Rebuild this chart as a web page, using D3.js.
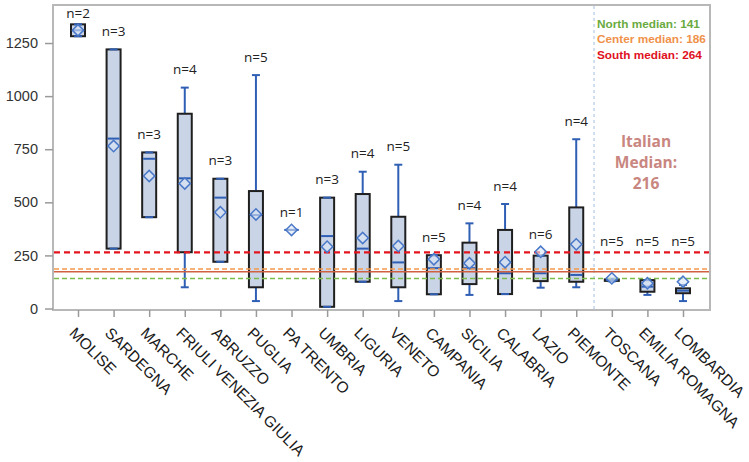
<!DOCTYPE html>
<html>
<head>
<meta charset="utf-8">
<script src="https://cdn.jsdelivr.net/npm/d3@7/dist/d3.min.js"></script>
<style>
  html, body { margin: 0; padding: 0; background: #fff; }
  svg { display: block; }
</style>
</head>
<body>
<svg id="chart" width="749" height="462"></svg>
<script>
// ---- data ----
const categories = ["MOLISE","SARDEGNA","MARCHE","FRIULI VENEZIA GIULIA","ABRUZZO","PUGLIA","PA TRENTO","UMBRIA","LIGURIA","VENETO","CAMPANIA","SICILIA","CALABRIA","LAZIO","PIEMONTE","TOSCANA","EMILIA ROMAGNA","LOMBARDIA"];
const nCounts     = [2, 3, 3, 4, 3, 5, 1, 3, 4, 5, 5, 4, 4, 6, 4, 5, 5, 5];
const whiskerLow  = [1282, 282, 430, 100, 220,   35, 370,   8, 126,  35,  67,  64,  68,  98, 100, 128,  64,  35];
const q1          = [1282, 282, 430, 265, 220,  100, 370,   8, 126, 100,  67, 115,  68, 129, 126, 130,  79,  72];
const medians     = [1310, 800, 705, 613, 522,  440, 370, 341, 282, 217, 190, 190, 166, 166, 158, 134, 103,  84];
const q3          = [1338,1220, 735, 917, 611,  553, 370, 522, 539, 432, 251, 310, 370, 249, 476, 137, 134,  95];
const whiskerHigh = [1338,1220, 735,1040, 611, 1099, 370, 522, 644, 677, 251, 401, 492, 249, 797, 140, 134, 111];
const means       = [1310, 765, 624, 589, 453,  443, 370, 291, 332, 294, 232, 213, 218, 267, 302, 142, 119, 126];

const yTicks = [0, 250, 500, 750, 1000, 1250];
const refNames  = ["North median: 141", "Center median: 186", "South median: 264"];
const refValues = [141, 186, 264];
const italianMedianLabel = ["Italian", "Median:", "216"];
const solidLineValue = 173;
const splitAfter = "PIEMONTE";

// ---- layout ----
const frame = { left: 53, right: 710, top: 5, bottom: 310 };
const svg = d3.select("#chart");

const y = d3.scaleLinear().domain([-7, 1429]).range([frame.bottom, frame.top]);
const x = d3.scalePoint().domain(categories).range([78, 683]);

const rows = categories.map((c, i) => ({
  cat: c, n: nCounts[i], wl: whiskerLow[i], q1: q1[i], med: medians[i],
  q3: q3[i], wh: whiskerHigh[i], mean: means[i]
}));

// frame
svg.append("rect")
  .attr("x", frame.left).attr("y", frame.top)
  .attr("width", frame.right - frame.left).attr("height", frame.bottom - frame.top)
  .attr("fill", "none").attr("stroke", "#b8b8b8").attr("stroke-width", 2);

// y axis
const yAxis = d3.axisLeft(y).tickValues(yTicks).tickFormat(d3.format("d")).tickSize(8).tickPadding(7);
const gy = svg.append("g").attr("transform", `translate(${frame.left},0)`).call(yAxis);
gy.select(".domain").remove();
gy.selectAll(".tick line").attr("stroke", "#9a9a9a").attr("stroke-width", 1.5);
gy.selectAll(".tick text")
  .attr("font-family", "'Liberation Sans', Arial, sans-serif")
  .attr("font-size", "14.5px").attr("fill", "#333");

// x axis
const xAxis = d3.axisBottom(x).tickSize(7).tickFormat(d => d);
const gx = svg.append("g").attr("transform", `translate(0,${frame.bottom})`).call(xAxis);
gx.select(".domain").remove();
gx.selectAll(".tick line").attr("stroke", "#9a9a9a").attr("stroke-width", 1.5);
gx.selectAll(".tick text")
  .attr("font-family", "'Liberation Sans', Arial, sans-serif")
  .attr("font-size", "15.5px").attr("fill", "#1a1a1a")
  .attr("text-anchor", "start")
  .attr("x", 0).attr("y", 0).attr("dy", 0)
  .attr("transform", "translate(-10,24) rotate(45)");

// vertical separator
const sepIdx = categories.indexOf(splitAfter);
const sepX = (x(categories[sepIdx]) + x(categories[sepIdx + 1])) / 2;
svg.append("line")
  .attr("x1", sepX).attr("x2", sepX).attr("y1", frame.top + 1).attr("y2", frame.bottom - 1)
  .attr("stroke", "#b9cde6").attr("stroke-width", 1.3).attr("stroke-dasharray", "3,3");

// boxes
const boxW = 14, capW = 8;
const blue = "#2f5fb5";
const g = svg.append("g");
rows.forEach(r => {
  const cx = x(r.cat);
  if (r.wh > r.q3) g.append("line").attr("x1", cx).attr("x2", cx).attr("y1", y(r.q3)).attr("y2", y(r.wh)).attr("stroke", blue).attr("stroke-width", 2);
  if (r.wl < r.q1) g.append("line").attr("x1", cx).attr("x2", cx).attr("y1", y(r.q1)).attr("y2", y(r.wl)).attr("stroke", blue).attr("stroke-width", 2);
  if (r.q3 > r.q1) {
    g.append("rect")
      .attr("x", cx - boxW / 2).attr("y", y(r.q3))
      .attr("width", boxW).attr("height", y(r.q1) - y(r.q3))
      .attr("fill", "#c9d4e7").attr("stroke", "#1f1f1f").attr("stroke-width", 2);
  }
  const cw = r.q3 > r.q1 ? capW : 14;
  [r.wl, r.wh].forEach(v => {
    g.append("line").attr("x1", cx - cw / 2).attr("x2", cx + cw / 2)
      .attr("y1", y(v)).attr("y2", y(v)).attr("stroke", blue).attr("stroke-width", 2);
  });
  g.append("line").attr("x1", cx - boxW / 2 + 1).attr("x2", cx + boxW / 2 - 1)
    .attr("y1", y(r.med)).attr("y2", y(r.med)).attr("stroke", blue).attr("stroke-width", 2);
});

// reference lines
svg.append("line").attr("x1", frame.left + 1).attr("x2", frame.right - 1)
  .attr("y1", y(solidLineValue)).attr("y2", y(solidLineValue))
  .attr("stroke", "#d0603f").attr("stroke-width", 1.6);
const refColors = ["#7dbb4a", "#f39a4c", "#e3141e"];
const refWidths = [1.5, 1.6, 2.2];
const refDash = ["5,3", "5,3", "6,4"];
refValues.forEach((v, i) => {
  svg.append("line").attr("x1", frame.left + 1).attr("x2", frame.right - 1)
    .attr("y1", y(v)).attr("y2", y(v))
    .attr("stroke", refColors[i]).attr("stroke-width", refWidths[i])
    .attr("stroke-dasharray", refDash[i]);
});

// means (diamonds)
const diamond = d3.symbol().type(d3.symbolSquare).size(64);
rows.forEach(r => {
  svg.append("path")
    .attr("d", diamond())
    .attr("transform", `translate(${x(r.cat)},${y(r.mean)}) rotate(45)`)
    .attr("fill", "rgba(220,230,246,0.6)").attr("stroke", "#4a78c8").attr("stroke-width", 1.5);
});

// n labels
rows.forEach(r => {
  const top = Math.max(r.wh, r.q3, r.mean);
  const cy = Math.max(13, Math.min(y(top) - 18, y(315)));
  svg.append("text")
    .attr("x", x(r.cat)).attr("y", cy).attr("dy", "0.35em")
    .attr("text-anchor", "middle")
    .attr("font-family", "'Open Sans', 'Noto Sans', sans-serif")
    .attr("font-size", "13.5px").attr("fill", "#222")
    .text("n=" + r.n);
});

// legend text
const legendY = [27.5, 43, 58.5];
refNames.forEach((t, i) => {
  svg.append("text").attr("x", 597).attr("y", legendY[i])
    .attr("font-family", "'Liberation Sans', Arial, sans-serif")
    .attr("font-weight", "bold").attr("font-size", "11.8px")
    .attr("fill", ["#6aaa3f", "#f0914a", "#e0101e"][i])
    .text(t);
});

// Italian median annotation
italianMedianLabel.forEach((t, i) => {
  svg.append("text").attr("x", 646).attr("y", 147 + i * 20.8)
    .attr("text-anchor", "middle")
    .attr("font-family", "'Open Sans', 'Noto Sans', sans-serif")
    .attr("font-weight", "bold").attr("font-size", "15.5px")
    .attr("fill", "#c98680")
    .text(t);
});
</script>
</body>
</html>
